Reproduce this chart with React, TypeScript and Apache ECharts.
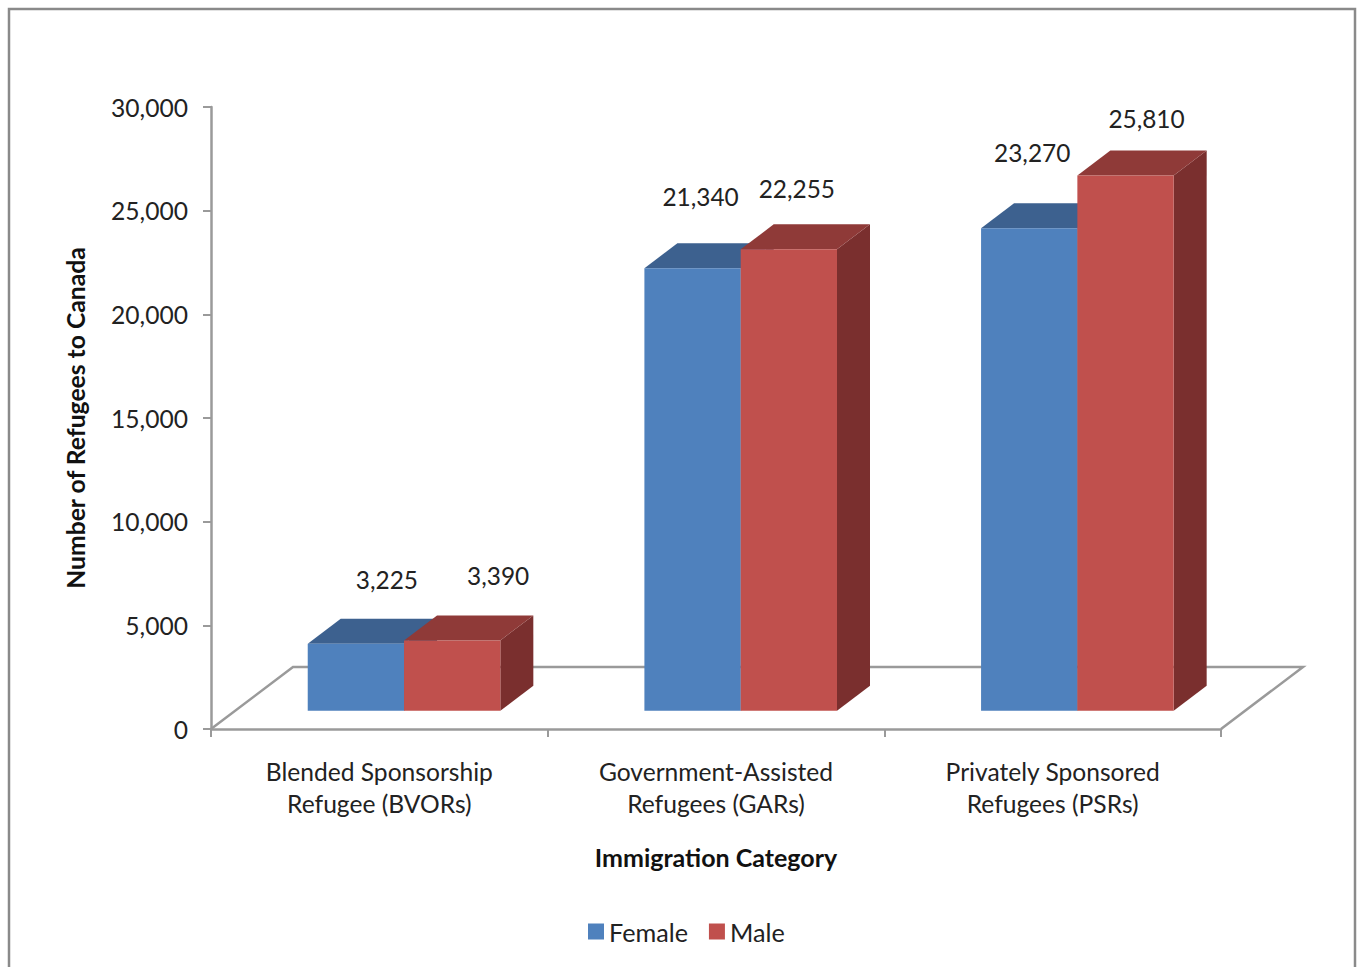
import React, { useEffect, useRef } from "react";
import * as echarts from "echarts";

const categories = [
  "Blended Sponsorship\nRefugee (BVORs)",
  "Government-Assisted\nRefugees (GARs)",
  "Privately Sponsored\nRefugees (PSRs)",
];
const femaleValues = [3225, 21340, 23270];
const maleValues = [3390, 22255, 25810];
const yTicks = [0, 5000, 10000, 15000, 20000, 25000, 30000];

const femaleLabelOffsets = [[31, -64.5], [8, -71.5], [3, -75.5]];
const maleLabelOffsets = [[46, -64.5], [8, -60.5], [21, -57.5]];

const FONT = "Lato";
const TEXT = "#222222";
const AXIS = "#9a9a9a";

const BAR_W = 96.3;
const BAR_GROUP_SHIFT = 24.7;
const LIFT = 18.3;
const DEPTH_X = 33;
const DEPTH_Y = 25;
const FLOOR_X = 82;
const FLOOR_Y = 62;

const fmt = (v: number) => v.toLocaleString("en-US");

function barSeries(
  name: string,
  values: number[],
  slot: number,
  front: string,
  top: string,
  side: string,
  offsets: number[][],
  z: number,
) {
  return {
    type: "custom",
    name,
    z,
    silent: true,
    itemStyle: { color: front },
    encode: { x: 0, y: 1 },
    data: values.map((v, i) => [i, v]),
    renderItem: (_: any, api: any) => {
      const idx = api.value(0);
      const val = api.value(1);
      const [cx, yTop0] = api.coord([idx, val]);
      const [, yBase0] = api.coord([idx, 0]);
      const x0 = cx + BAR_GROUP_SHIFT + (slot - 1) * BAR_W;
      const x1 = x0 + BAR_W;
      const yTop = yTop0 - LIFT;
      const yBase = yBase0 - LIFT;
      const [ox, oy] = offsets[idx];
      return {
        type: "group",
        children: [
          {
            type: "polygon",
            shape: {
              points: [[x1, yTop], [x1 + DEPTH_X, yTop - DEPTH_Y], [x1 + DEPTH_X, yBase - DEPTH_Y], [x1, yBase]],
            },
            style: { fill: side },
          },
          {
            type: "polygon",
            shape: {
              points: [[x0, yTop], [x0 + DEPTH_X, yTop - DEPTH_Y], [x1 + DEPTH_X, yTop - DEPTH_Y], [x1, yTop]],
            },
            style: { fill: top },
          },
          { type: "rect", shape: { x: x0, y: yTop, width: BAR_W, height: yBase - yTop }, style: { fill: front } },
          {
            type: "text",
            z2: 50,
            style: {
              x: x0 + BAR_W / 2 + ox,
              y: yTop + oy,
              text: fmt(val),
              fill: TEXT,
              font: `24.4px ${FONT}`,
              align: "center",
              verticalAlign: "middle",
            },
          },
        ],
      };
    },
  };
}

export default function App() {
  const ref = useRef<HTMLDivElement>(null);
  useEffect(() => {
    document.body.style.margin = "0";
    const chart = echarts.init(ref.current!, null, { renderer: "svg" });
    chart.setOption({
      animation: false,
      backgroundColor: "#ffffff",
      grid: { left: 211, right: 138, top: 107, bottom: 238 },
      graphic: [
        {
          type: "polyline",
          shape: { points: [[9, 967], [9, 9], [1355, 9], [1355, 967]] },
          style: { stroke: "#8a8a8a", lineWidth: 2.5, fill: "none" },
        },
      ],
      legend: {
        show: true,
        left: 583,
        top: 914,
        icon: "rect",
        itemWidth: 16,
        itemHeight: 16,
        itemGap: 21,
        selectedMode: false,
        data: ["Female", "Male"],
        textStyle: { fontFamily: FONT, fontSize: 25.2, color: TEXT, padding: [0, 0, 0, 0] },
      },
      xAxis: {
        type: "category",
        data: categories,
        name: "Immigration Category",
        nameLocation: "middle",
        nameGap: 128,
        nameTextStyle: { fontFamily: FONT, fontSize: 25, fontWeight: "bold", color: "#111111", verticalAlign: "middle" },
        axisLine: { lineStyle: { color: AXIS, width: 2.5 } },
        axisTick: { show: true, length: 8, alignWithLabel: false, lineStyle: { color: AXIS, width: 2 } },
        axisLabel: { fontFamily: FONT, fontSize: 24.6, color: TEXT, lineHeight: 32, margin: 26, interval: 0 },
        splitLine: { show: false },
      },
      yAxis: {
        type: "value",
        min: 0,
        max: 30000,
        interval: 5000,
        name: "Number of Refugees to Canada",
        nameLocation: "middle",
        nameGap: 136,
        nameRotate: 90,
        nameTextStyle: { fontFamily: FONT, fontSize: 24.7, fontWeight: "bold", color: "#111111", verticalAlign: "middle" },
        axisLine: { show: true, lineStyle: { color: AXIS, width: 2.5 } },
        axisTick: { show: true, length: 8, lineStyle: { color: AXIS, width: 2 } },
        axisLabel: {
          fontFamily: FONT,
          fontSize: 24.6,
          color: TEXT,
          margin: 23,
          formatter: (v: number) => (yTicks.includes(v) ? fmt(v) : ""),
        },
        splitLine: { show: false },
      },
      series: [
        {
          type: "custom",
          name: "Floor",
          z: 1,
          silent: true,
          data: [[0, 0]],
          encode: { x: 0, y: 1 },
          renderItem: (params: any, api: any) => {
            const c = params.coordSys;
            const bottom = c.y + c.height;
            const right = c.x + c.width;
            return {
              type: "polyline",
              shape: {
                points: [
                  [c.x, bottom],
                  [c.x + FLOOR_X, bottom - FLOOR_Y],
                  [right + FLOOR_X, bottom - FLOOR_Y],
                  [right, bottom],
                ],
              },
              style: { stroke: AXIS, lineWidth: 2.5, fill: "none" },
            };
          },
        },
        barSeries("Female", femaleValues, 0, "#4F81BD", "#3D618F", "#345478", femaleLabelOffsets, 2),
        barSeries("Male", maleValues, 1, "#C0504D", "#8F3A38", "#7A2F2E", maleLabelOffsets, 3),
      ],
    });
    return () => chart.dispose();
  }, []);
  return <div ref={ref} style={{ position: "absolute", left: 0, top: 0, width: 1359, height: 967 }} />;
}
